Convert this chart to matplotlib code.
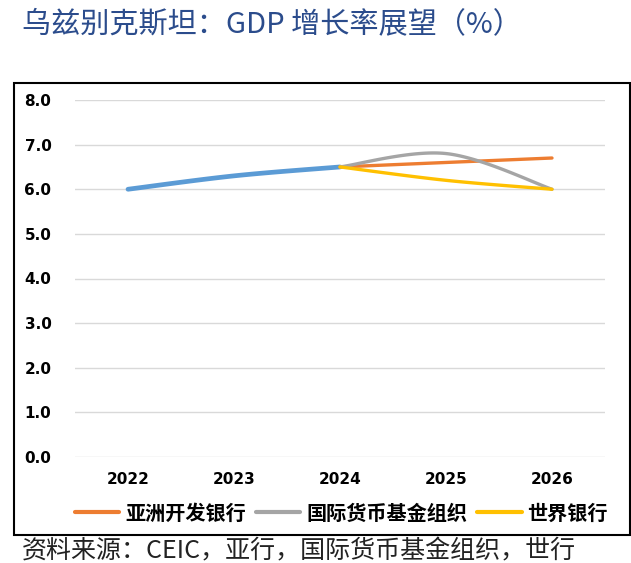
import numpy as np
import matplotlib
matplotlib.use("Agg")
import matplotlib.pyplot as plt
from matplotlib.patches import Rectangle

plt.rcParams['font.family'] = ['Noto Sans CJK SC', 'DejaVu Sans']

# data
years = [2022, 2023, 2024, 2025, 2026]
hist_years = [2022, 2023, 2024]
hist_vals = [6.0, 6.3, 6.5]
fc_years = [2024, 2025, 2026]
adb_vals = [6.5, 6.6, 6.7]
imf_vals = [6.5, 6.8, 6.0]
wb_vals = [6.5, 6.2, 6.0]
series_names = ['亚洲开发银行', '国际货币基金组织', '世界银行']
yticks = [0, 1, 2, 3, 4, 5, 6, 7, 8]


def smooth(xs, ys, n=40):
    # excel-like smoothed line (catmull-rom as bezier segments)
    p = np.column_stack([xs, ys]).astype(float)
    out = []
    for i in range(len(p) - 1):
        p0 = p[i - 1] if i > 0 else p[i]
        p1, p2 = p[i], p[i + 1]
        p3 = p[i + 2] if i + 2 < len(p) else p[i + 1]
        c1 = p1 + (p2 - p0) / 6
        c2 = p2 - (p3 - p1) / 6
        t = np.linspace(0, 1, n)[:, None]
        seg = ((1 - t) ** 3 * p1 + 3 * (1 - t) ** 2 * t * c1
               + 3 * (1 - t) * t ** 2 * c2 + t ** 3 * p2)
        out.append(seg if i == 0 else seg[1:])
    out = np.vstack(out)
    return out[:, 0], out[:, 1]


fig = plt.figure(figsize=(6.31, 5.63), dpi=100)
ax = fig.add_axes([75 / 631, 1 - 457 / 563, 530 / 631, 357 / 563])

x, y = smooth(hist_years, hist_vals)
ax.plot(x, y, color='#5B9BD5', lw=3.4, solid_capstyle='round', zorder=3)

colors = ['#ED7D31', '#A5A5A5', '#FFC000']
for vals, c, name in zip([adb_vals, imf_vals, wb_vals], colors, series_names):
    x, y = smooth(fc_years, vals)
    ax.plot(x, y, color=c, lw=2.4, solid_capstyle='round', label=name, zorder=4)

ax.set_xlim(2021.5, 2026.5)
ax.set_ylim(0, 8)
ax.set_xticks(years)
ax.set_xticklabels([str(v) for v in years], fontweight='bold', fontsize=11,
                   family='DejaVu Sans')
ax.set_yticks(yticks)
ax.set_yticklabels(['%.1f' % v for v in yticks], fontweight='bold', fontsize=11,
                   family='DejaVu Sans')
ax.tick_params(length=0)
ax.tick_params(axis='x', pad=11)
ax.tick_params(axis='y', pad=17)
ax.grid(axis='y', color='#D9D9D9', lw=1)
ax.set_axisbelow(True)
for s in ax.spines.values():
    s.set_visible(False)

leg = fig.legend(loc='center', bbox_to_anchor=(0.541, 1 - 513 / 563), ncol=3,
                 frameon=False, handlelength=2.2, handletextpad=0.3,
                 columnspacing=0.5, borderaxespad=0,
                 prop={'family': 'Noto Sans CJK SC', 'weight': 'bold', 'size': 14.5})
for h in leg.legend_handles:
    h.set_linewidth(3)

fig.patches.append(Rectangle((14 / 631, 1 - 535 / 563), 616 / 631, 452 / 563,
                             transform=fig.transFigure, fill=False,
                             edgecolor='black', lw=1.5))

fig.text(22 / 631, 1 - 24 / 563, '乌兹别克斯坦：GDP 增长率展望（%）',
         color='#2B4C8C', fontsize=21, ha='left', va='center')
fig.text(22 / 631, 1 - 551 / 563, '资料来源：CEIC，亚行，国际货币基金组织，世行',
         color='#222222', fontsize=18, ha='left', va='center')

fig.savefig('out.png', dpi=100)
